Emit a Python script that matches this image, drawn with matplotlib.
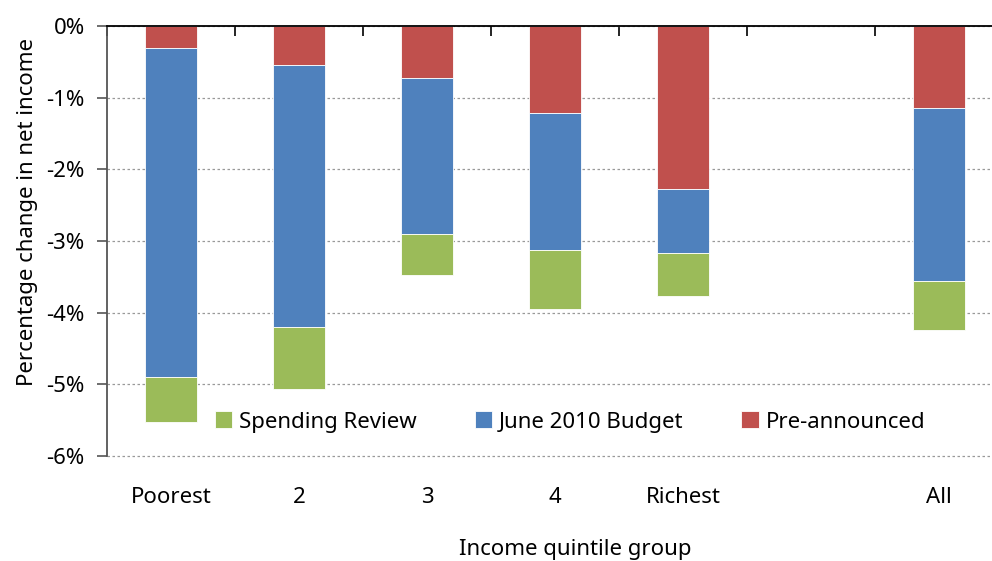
import matplotlib.pyplot as plt
import numpy as np
from matplotlib.ticker import FuncFormatter

plt.rcParams['font.family'] = ['Noto Sans', 'DejaVu Sans']

groups = ['Poorest', '2', '3', '4', 'Richest', '', 'All']
pre_announced = [-0.30, -0.54, -0.73, -1.21, -2.27, np.nan, -1.14]
june_budget = [-4.60, -3.66, -2.17, -1.91, -0.90, np.nan, -2.42]
spending_review = [-0.62, -0.86, -0.57, -0.83, -0.60, np.nan, -0.68]

red = '#C0504D'
blue = '#4F81BD'
green = '#9BBB59'
fs = 16

fig = plt.figure(figsize=(9.92, 5.61), dpi=100)
ax = fig.add_axes([107 / 992, 1 - 456 / 561, 896 / 992, 430 / 561])

x = np.arange(len(groups))
pre = np.array(pre_announced)
bud = np.array(june_budget)
sr = np.array(spending_review)

w = 0.41
b1 = ax.bar(x, pre, w, color=red, edgecolor='white', linewidth=0.6, label='Pre-announced')
b2 = ax.bar(x, bud, w, bottom=pre, color=blue, edgecolor='white', linewidth=0.6,
            label='June 2010 Budget')
b3 = ax.bar(x, sr, w, bottom=pre + bud, color=green, edgecolor='white', linewidth=0.6,
            label='Spending Review')

ax.set_xlim(-0.5, len(groups) - 0.5)
ax.set_ylim(-6, 0)
ax.set_yticks(np.arange(-6, 1, 1))
ax.yaxis.set_major_formatter(FuncFormatter(lambda v, p: '%d%%' % v))
ax.yaxis.grid(True, linestyle=(0, (2, 2)), color='#999999', linewidth=0.9)
for gl in ax.get_ygridlines():
    gl.set_clip_on(False)
ax.set_axisbelow(True)

ax.set_xticks(x)
ax.set_xticklabels(groups)
ax.set_xticks(np.arange(-0.5, len(groups)), minor=True)
ax.tick_params(axis='x', which='major', length=0, pad=22, labelsize=fs)
ax.tick_params(axis='x', which='minor', top=True, bottom=False, direction='in',
               length=7, width=1.2, color='black')
ax.tick_params(axis='y', length=7, width=1.2, color='#555555', labelsize=fs, pad=9)

ax.spines['bottom'].set_visible(False)
ax.spines['right'].set_visible(False)
ax.spines['top'].set_linewidth(1.3)
ax.spines['left'].set_color('#555555')
ax.spines['left'].set_linewidth(1.3)

ax.set_ylabel('Percentage change in net income', fontsize=fs)
ax.yaxis.set_label_coords(-0.077, 0.567)
fig.text(575 / 992, 1 - 549 / 561, 'Income quintile group', ha='center', va='center',
         fontsize=fs)

ax.legend(handles=[b3, b2, b1], loc='center', bbox_to_anchor=(570 / 992, 1 - 422 / 561),
          bbox_transform=fig.transFigure, ncol=3, frameon=False, fontsize=fs,
          handlelength=0.8, handleheight=0.8, handletextpad=0.3, columnspacing=2.6)

fig.savefig('out.png', dpi=100)
